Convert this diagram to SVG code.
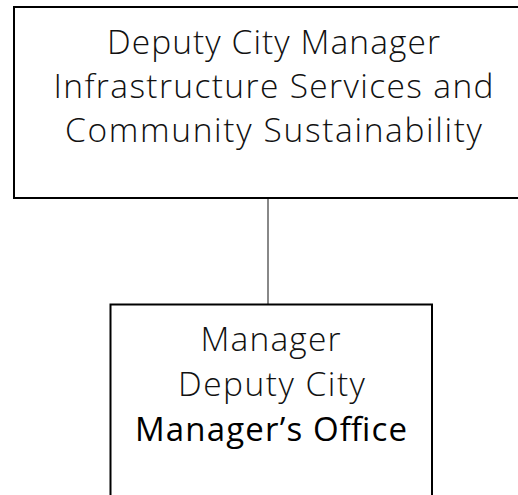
<svg xmlns="http://www.w3.org/2000/svg" width="518" height="495" viewBox="0 0 518 495">
<style>
.box{fill:#fff;stroke:#000;stroke-width:2}
.t{font-family:"Open Sans","Noto Sans",sans-serif;font-weight:300;fill:#111;text-anchor:middle;font-size:33.5px}
.b{font-family:"Open Sans","Noto Sans",sans-serif;font-weight:400;fill:#000;text-anchor:middle;font-size:33px}
.conn{stroke:#888;stroke-width:2;fill:none}
</style>
<rect width="518" height="495" fill="#fff"/>
<g id="connectors">
<line class="conn" x1="268" y1="198" x2="268" y2="304.5"/>
</g>
<g id="node-deputy">
<rect class="box" x="14" y="7" width="530" height="191"/>
<text class="t" x="273.5" y="53.5" textLength="333" lengthAdjust="spacing">Deputy City Manager</text>
<text class="t" x="273.5" y="97.5" textLength="440" lengthAdjust="spacing">Infrastructure Services and</text>
<text class="t" x="273.5" y="141.5" textLength="417" lengthAdjust="spacing">Community Sustainability</text>
</g>
<g id="node-manager">
<rect class="box" x="110.5" y="304.5" width="321.5" height="220"/>
<text class="t" x="270.5" y="351" textLength="140" lengthAdjust="spacing">Manager</text>
<text class="t" x="271.5" y="396" textLength="187" lengthAdjust="spacing">Deputy City</text>
<text class="b" x="271" y="441" textLength="272" lengthAdjust="spacing">Manager’s Office</text>
</g>
</svg>
